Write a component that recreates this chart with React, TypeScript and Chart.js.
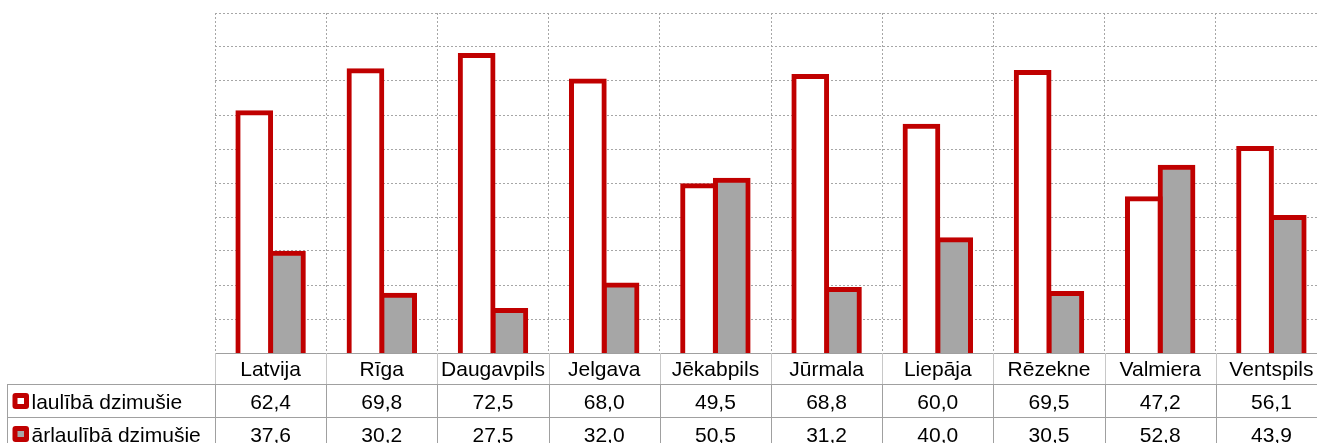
import React, { useEffect, useRef } from "react";
import { Chart, registerables } from "chart.js";

Chart.register(...registerables);

const categories = ["Latvija", "Rīga", "Daugavpils", "Jelgava", "Jēkabpils", "Jūrmala", "Liepāja", "Rēzekne", "Valmiera", "Ventspils"];
const seriesNames = ["laulībā dzimušie", "ārlaulībā dzimušie"];
const inMarriage = [62.4, 69.8, 72.5, 68.0, 49.5, 68.8, 60.0, 69.5, 47.2, 56.1];
const outOfMarriage = [37.6, 30.2, 27.5, 32.0, 50.5, 31.2, 40.0, 30.5, 52.8, 43.9];

const RED = "#C00000";
const GRAY = "#A6A6A6";
const FONT = "21px 'Liberation Sans', Arial, sans-serif";

const fmt = (v: number) => v.toFixed(1).replace(".", ",");

const tablePlugin = {
  id: "dataTable",
  afterDraw(chart: any) {
    const ctx = chart.ctx as CanvasRenderingContext2D;
    const x = chart.scales.x;
    const area = chart.chartArea;
    const n = categories.length;
    const w = (area.right - area.left) / n;
    const top = area.bottom;
    const r1 = top + 31;
    const r2 = r1 + 33;
    const bottom = chart.height;
    const leftEdge = 7;
    ctx.save();
    ctx.lineWidth = 1;
    ctx.strokeStyle = "#a0a0a0";
    const hline = (y: number, x0: number, x1: number) => {
      ctx.beginPath();
      ctx.moveTo(x0, Math.round(y) + 0.5);
      ctx.lineTo(x1, Math.round(y) + 0.5);
      ctx.stroke();
    };
    const vline = (xx: number, y0: number, y1: number, color: string) => {
      ctx.strokeStyle = color;
      ctx.beginPath();
      ctx.moveTo(Math.round(xx) + 0.5, y0);
      ctx.lineTo(Math.round(xx) + 0.5, y1);
      ctx.stroke();
    };
    hline(r1, leftEdge, area.right);
    hline(r2, leftEdge, area.right);
    vline(leftEdge, r1, bottom, "#a0a0a0");
    for (let i = 0; i <= n; i++) {
      const bx = area.left + i * w;
      vline(bx, top, r1, "#c8c8c8");
      vline(bx, r1, bottom, "#a0a0a0");
    }
    ctx.fillStyle = "#000";
    ctx.font = FONT;
    ctx.textBaseline = "alphabetic";
    ctx.textAlign = "center";
    for (let i = 0; i < n; i++) {
      const cx = x.getPixelForValue(i);
      ctx.fillText(categories[i], cx, top + 23);
      ctx.fillText(fmt(inMarriage[i]), cx, r1 + 25);
      ctx.fillText(fmt(outOfMarriage[i]), cx, r2 + 25);
    }
    const fills = ["#ffffff", GRAY];
    const rows = [r1, r2];
    for (let k = 0; k < 2; k++) {
      const y0 = rows[k] + 9;
      ctx.fillStyle = RED;
      ctx.beginPath();
      (ctx as any).roundRect(12.5, y0, 16.5, 16, 3);
      ctx.fill();
      ctx.fillStyle = fills[k];
      ctx.fillRect(17.5, y0 + 5, 6.5, 6);
      ctx.fillStyle = "#000";
      ctx.textAlign = "left";
      ctx.fillText(seriesNames[k], 31.5, rows[k] + 25);
    }
    ctx.restore();
  },
};

export default function App() {
  const ref = useRef<HTMLCanvasElement | null>(null);
  useEffect(() => {
    document.body.style.margin = "0";
    document.documentElement.style.overflow = "hidden";
    document.body.style.overflow = "hidden";
    const canvas = ref.current!;
    const chart = new Chart(canvas, {
      type: "bar",
      data: {
        labels: categories,
        datasets: [
          {
            label: seriesNames[0],
            data: inMarriage,
            backgroundColor: "#ffffff",
            borderColor: RED,
            borderWidth: 5,
            inflateAmount: 2.5,
            borderSkipped: false,
            clip: { left: false, right: false, top: false, bottom: 0 } as any,
          },
          {
            label: seriesNames[1],
            data: outOfMarriage,
            backgroundColor: GRAY,
            borderColor: RED,
            borderWidth: 5,
            inflateAmount: 2.5,
            borderSkipped: false,
            clip: { left: false, right: false, top: false, bottom: 0 } as any,
          },
        ] as any,
      },
      options: {
        responsive: false,
        animation: false,
        devicePixelRatio: 1,
        layout: { padding: { left: 215, right: 0, top: 13, bottom: 90 } },
        datasets: { bar: { categoryPercentage: 1 / 1.7, barPercentage: 1 } },
        plugins: { legend: { display: false }, tooltip: { enabled: false } },
        scales: {
          x: {
            ticks: { display: false },
            grid: { offset: true, color: "#a6a6a6", lineWidth: 1, drawTicks: false },
            border: { display: true, color: "#a0a0a0", width: 1, dash: [2, 2] },
            afterFit: (s: any) => { s.height = 0; },
          },
          y: {
            min: 20,
            max: 80,
            ticks: { display: false, stepSize: 6 },
            grid: { color: "#a6a6a6", lineWidth: 1, drawTicks: false },
            border: { display: false, dash: [2, 2] },
            afterFit: (s: any) => { s.width = 0; },
          },
        },
      } as any,
      plugins: [tablePlugin],
    });
    return () => chart.destroy();
  }, []);
  return (
    <canvas
      ref={ref}
      width={1327}
      height={443}
      style={{ position: "fixed", left: 0, top: 0, width: 1327, height: 443 }}
    />
  );
}
